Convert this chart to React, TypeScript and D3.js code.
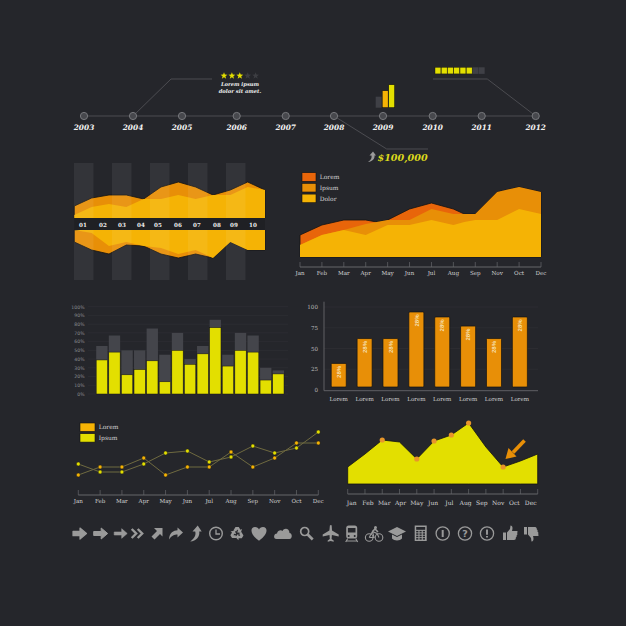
import React from "react";
import * as d3 from "d3";

// ---------- data ----------
const years = ["2003","2004","2005","2006","2007","2008","2009","2010","2011","2012"];
const yearPos = [0, 49, 98, 152.7, 201.7, 250, 299, 348.7, 397.7, 451.7];
const miniBars = [11, 17, 23];
const stars = [1, 1, 1, 0, 0];
const progress = [1, 1, 1, 1, 1, 1, 0, 0];

const ribbonLabels = ["01","02","03","04","05","06","07","08","09","10"];
const ribbonLabelPos = [83,103,122,141,158,178,197,217,234,253];
const stripeIdx = [0, 1, 2, 3, 4];
const ribbonTopOuter = [12,20,23,23,19,31,36,31,23,28,36,28];
const ribbonTopInner = [3,11,14,11,19,19,23,19,23,23,31,28];
const ribbonBotOuter = [12,20,24,15,16,24,28,24,28,12,20,20];
const ribbonBotInner = [0,3,16,12,16,18,24,20,28,12,20,20];

const months = ["Jan","Feb","Mar","Apr","May","Jun","Jul","Aug","Sep","Nov","Oct","Dec"];
const areaPos = [0,1,2,3,3.5,4,5,6,7,7.5,8,9,10,11];
const areaLorem = [22,32,37,37,35,37,48,54,48,43,43,65,70,65];
const areaIpsum = [12,22,27,33,35,37,37,48,43,43,43,65,70,65];
const areaDolor = [12,22,27,22,27,32,32,37,32,35,37,37,48,43];
const areaLegend = ["Lorem","Ipsum","Dolor"];

const pctTicks = [0,10,20,30,40,50,60,70,80,90,100];
const barYellow = [39,48,22,28,38,14,50,34,46,76,32,50,48,16,23];
const barGrey = [55,67,50,50,75,45,70,40,55,85,45,70,67,30,27];

const orangeTicks = [0,25,50,75,100];
const orangeVals = [32,62,62,94,88,77,62,88];

const lineLorem = [20,28,28,37,20,28,28,43,28,37,52,52];
const lineIpsum = [31,23,23,31,42,44,33,38,49,42,47,63];

const peakVals = [17,30,44,42,25,43,49,61,37,17,23,30];
const peakDots = [2,4,5,6,7,9];

// ---------- palette ----------
const BG = "#25262b", LINE = "#55565b", AXIS = "#66676b";
const RED = "#e8650a", ORANGE = "#e88f07", GOLD = "#f5b305", YELLOW = "#e3df00";
const EDGE = "#131313", ICON = "#9a9a9a", TXT = "#d4d4d4";
const SERIF = "'DejaVu Serif', serif";

// ---------- scales ----------
const tlX = d3.scaleLinear().domain([0, 451.7]).range([84, 535.7]);
const ribX = d3.scaleLinear().domain([0, 11]).range([74.3, 265]);
const ribTopY = d3.scaleLinear().domain([0, 55]).range([218, 163]);
const ribBotY = d3.scaleLinear().domain([0, 50]).range([230, 280]);
const areaX = d3.scaleLinear().domain([0, 11]).range([300, 541]);
const areaY = d3.scaleLinear().domain([0, 72]).range([257, 185]);
const pctX = d3.scaleBand<number>().domain(d3.range(15)).range([96.2, 284]).paddingInner(0.1).paddingOuter(0);
const pctY = d3.scaleLinear().domain([0, 100]).range([394, 306.7]);
const ordX = d3.scaleBand<number>().domain(d3.range(8)).range([325.8, 532.8]).paddingInner(0.42).paddingOuter(0.21);
const ordY = d3.scaleLinear().domain([0, 100]).range([390, 307]);
const lineX = d3.scaleLinear().domain([0, 11]).range([78.3, 318.3]);
const lineY = d3.scaleLinear().domain([0, 80]).range([495, 415]);
const peakX = d3.scaleLinear().domain([0, 11]).range([347.7, 537.7]);
const peakY = d3.scaleLinear().domain([0, 61]).range([484, 423]);
const peakLabelX = d3.scaleLinear().domain([0, 11]).range([351.7, 530.7]);

const ribArea = (vals: number[], y: d3.ScaleLinear<number, number>) =>
  d3.area<number>().x((_, i) => ribX(i)).y0(y(0)).y1((v) => y(v))(vals) as string;
const bigArea = (vals: number[]) =>
  d3.area<number>().x((_, i) => areaX(areaPos[i])).y0(areaY(0)).y1((v) => areaY(v))(vals) as string;
const linePath = (vals: number[]) =>
  d3.line<number>().x((_, i) => lineX(i)).y((v) => lineY(v))(vals) as string;
const peakPath = d3.area<number>().x((_, i) => peakX(i)).y0(peakY(0)).y1((v) => peakY(v))(peakVals) as string;

function MonthAxis({ x, labelX, y, labelY, size = 5.6 }: any) {
  return (
    <g>
      <line x1={x(0)} x2={x(11)} y1={y} y2={y} stroke={AXIS} />
      {months.map((m, i) => (
        <g key={i}>
          <line x1={x(i)} x2={x(i)} y1={y - 5} y2={y} stroke={AXIS} strokeWidth={0.7} />
          <text x={labelX(i)} y={labelY} fontSize={size} fontFamily={SERIF} fill={TXT} textAnchor="middle">{m}</text>
        </g>
      ))}
    </g>
  );
}

function Star({ x, y, fill }: any) {
  const pts = d3.range(10).map((i) => {
    const r = i % 2 ? 1.5 : 3.6;
    const a = (i * Math.PI) / 5 - Math.PI / 2;
    return [x + r * Math.cos(a), y + r * Math.sin(a)].join(",");
  }).join(" ");
  return <polygon points={pts} fill={fill} />;
}

function Legend({ x, y, step, names, colors, w, h }: any) {
  return (
    <g>
      {names.map((n: string, i: number) => (
        <g key={n}>
          <rect x={x} y={y + i * step} width={w} height={h} fill={colors[i]} stroke={EDGE} strokeWidth={0.6} />
          <text x={x + w + 3.7} y={y + i * step + h - 2} fontSize={6} fontFamily={SERIF} fill={TXT}>{n}</text>
        </g>
      ))}
    </g>
  );
}

const fat = { stroke: ICON, strokeLinejoin: "round" as const };
const ring = { fill: "none", stroke: ICON };
const icons: [number, React.ReactNode][] = [
  [80, <path d="M-7,-2.2H0V-5.5L6.5,0L0,5.5V2.2H-7Z" fill={ICON} {...fat} strokeWidth={1.2} />],
  [100.7, <path d="M-7,-2H0.5V-5.5L7,0L0.5,5.5V2H-7Z" fill={ICON} {...fat} strokeWidth={1} />],
  [120.7, <path d="M-6.5,-1.5H1V-4.8L6.5,0L1,4.8V1.5H-6.5Z" fill={ICON} {...fat} strokeWidth={0.6} />],
  [137.7, <g fill="none" stroke={ICON} strokeWidth={2.4}><path d="M-6,-4.5L-1.5,0L-6,4.5" /><path d="M0,-4.5L4.5,0L0,4.5" /></g>],
  [157, <path d="M-3,-5.5H5.5V3L3,0.5L-2.5,6L-5.5,3L0,-2.5Z" fill={ICON} />],
  [176, <path d="M-7,6C-6.5,-1 -2.5,-3 1.5,-3.2V-6L7,-1L1.5,4V1C-1.5,1 -4.5,2 -7,6Z" fill={ICON} />],
  [195.7, <path d="M-5.5,8C-1,5 0.5,1 -0.5,-2H-3.2L2,-8L6,-2H3.5C4.5,3 0.5,7.5 -5.5,8Z" fill={ICON} />],
  [216, <g {...ring}><circle r={6.3} strokeWidth={1.4} /><path d="M0,-4V0.5H4" strokeWidth={1.3} /></g>],
  [237, <g fill={ICON}>{[0, 120, 240].map((a) => (
    <path key={a} transform={`rotate(${a})`} d="M-3.6,-3L-1.5,-6.6H1.8L3.4,-3.8L5,-4.6L3.8,-0.4L-0.3,-1.2L1.2,-2.4L0.3,-4L-0.8,-2Z" />
  ))}</g>],
  [259, <path d="M0,7.2C-9.5,1 -9,-6.5 -4,-6.5C-2,-6.5 -0.5,-5.5 0,-4C0.5,-5.5 2,-6.5 4,-6.5C9,-6.5 9.5,1 0,7.2Z" fill={ICON} />],
  [283, <path d="M-6.5,5.5C-10,5.5 -9.5,0 -6,0C-5.5,-3 -2,-4 -0.5,-2.5C1,-6 6.5,-5.5 6.5,-0.5C9.5,-0.5 9.5,5.5 6.5,5.5Z" fill={ICON} />],
  [306.7, <g {...ring}><circle cx={-2} cy={-2} r={4} strokeWidth={1.7} /><path d="M1,1L6,6" strokeWidth={2.6} /></g>],
  [330.7, <path d="M-0.8,-8C0,-9 1,-8.5 1,-7.5L1.3,-3L8,1V3L1.2,1.5L0.9,5.5L3,7V8.2L0,7.5L-3,8.2V7L-0.9,5.5L-1.2,1.5L-8,3V1L-1.3,-3Z" fill={ICON} />],
  [351.7, <g><rect x={-5.5} y={-8} width={11} height={13} rx={2.5} fill={ICON} /><rect x={-3.8} y={-5.5} width={7.6} height={4.5} fill={BG} /><circle cx={-3} cy={2.5} r={1} fill={BG} /><circle cx={3} cy={2.5} r={1} fill={BG} /><path d="M-4,5L-6,8.5M4,5L6,8.5M-5,7.5H5" stroke={ICON} strokeWidth={1.1} /></g>],
  [374, <g {...ring} strokeWidth={1.1}><circle cx={-4.8} cy={4} r={3.8} /><circle cx={5} cy={4} r={3.8} /><path d="M-4.8,4L-1.5,-2L3,0L5,4M-1.5,-2L0,4H-4.8" /><circle cx={1.5} cy={-6} r={1.5} fill={ICON} stroke="none" /><path d="M-1.5,-2L1,-4.5L4,-1.5" strokeWidth={1.6} /></g>],
  [397, <g fill={ICON}><path d="M0,-6.5L9,-2L0,2.5L-9,-2Z" /><path d="M-5,1L0,3.5L5,1V5C3,7.5 -3,7.5 -5,5Z" /></g>],
  [420.7, <g><rect x={-6} y={-8} width={12} height={15.5} fill={ICON} /><rect x={-4.5} y={-6.5} width={9} height={2.8} fill={BG} />{d3.range(12).map((i) => <rect key={i} x={-4.5 + (i % 3) * 3.3} y={-2.6 + Math.floor(i / 3) * 2.4} width={2.2} height={1.5} fill={BG} />)}</g>],
  [442.7, <g {...ring}><circle r={6.6} strokeWidth={1.3} /><path d="M0,-3.5V3.5" strokeWidth={2} /></g>],
  [465, <g><circle r={6.6} {...ring} strokeWidth={1.3} /><text y={3.2} fontSize={9.5} fontWeight="bold" fontFamily="'DejaVu Sans'" fill={ICON} textAnchor="middle">?</text></g>],
  [487, <g {...ring}><circle r={6.6} strokeWidth={1.3} /><path d="M0,-4V1.2M0,2.4V4" strokeWidth={1.9} /></g>],
  [510, <path d="M-7,-1H-4V6.5H-7ZM-3,-1L0,-4.5L0.5,-8C2.5,-8 3,-5.5 2,-2.5H7C7.8,-2.5 7.8,-1 7,-0.5C7.8,0 7.5,1.5 6.5,1.8C7,2.5 6.5,3.8 5.8,4C6,5 5.5,6.5 4,6.5H-3Z" fill={ICON} />],
  [531, <path d="M-7,-6.5H-4V1H-7ZM-3,-6.5H4C5.5,-6.5 6,-5 5.8,-4C6.5,-3.8 7,-2.5 6.5,-1.8C7.5,-1.5 7.8,0 7,0.5C7.8,1 7.8,2.5 7,2.5H2C3,5.5 2.5,8 0.5,8L0,4.5L-3,1Z" fill={ICON} />],
];

export default function App() {
  return (
    <svg width={626} height={626} viewBox="0 0 626 626" style={{ position: "absolute", left: 0, top: 0, background: BG }}>
      <rect width={626} height={626} fill={BG} />

      {/* timeline */}
      <line x1={tlX(0)} x2={tlX(451.7)} y1={116} y2={116} stroke={LINE} strokeWidth={0.8} />
      <polyline points={`${tlX(49)},116 171,79 212,79`} fill="none" stroke={LINE} strokeWidth={0.8} />
      <polyline points={`${tlX(250)},116 386.7,149 428,149`} fill="none" stroke={LINE} strokeWidth={0.8} />
      <polyline points={`433,79 487.3,79 ${tlX(451.7)},116`} fill="none" stroke={LINE} strokeWidth={0.8} />
      {years.map((y, i) => (
        <g key={y}>
          <circle cx={tlX(yearPos[i])} cy={116} r={3.6} fill="#47484d" stroke="#77787c" strokeWidth={1} />
          <text x={tlX(yearPos[i])} y={130} fontSize={7.4} fontWeight="bold" fontStyle="italic" fontFamily={SERIF} fill="#f2f2f2" textAnchor="middle">{y}</text>
        </g>
      ))}
      {stars.map((s, i) => <Star key={i} x={224 + i * 7.9} y={75.8} fill={s ? YELLOW : "#3c3d42"} />)}
      <text x={240} y={86} fontSize={5.2} fontWeight="bold" fontStyle="italic" fontFamily={SERIF} fill="#eee" textAnchor="middle">Lorem ipsum</text>
      <text x={240} y={92.6} fontSize={5.2} fontWeight="bold" fontStyle="italic" fontFamily={SERIF} fill="#eee" textAnchor="middle">dolor sit amet.</text>
      {miniBars.map((v, i) => (
        <rect key={i} x={375.7 + i * 6.5} y={107.7 - v} width={6} height={v} fill={["#3f4046", GOLD, YELLOW][i]} stroke={i ? EDGE : "none"} strokeWidth={0.6} />
      ))}
      {progress.map((p, i) => (
        <rect key={i} x={435 + i * 6.25} y={67.3} width={5.9} height={6.6} fill={p ? YELLOW : "#3f4046"} stroke={p ? EDGE : "none"} strokeWidth={0.4} />
      ))}
      <path d="M369,162C372,160 373,158 372.5,155.5H370.5L374,151.5L377,155.5H375.5C376,158.5 373.5,161.5 369,162Z" fill={ICON} transform="translate(-1,0)" />
      <text x={377.5} y={161} fontSize={9.6} fontWeight="bold" fontStyle="italic" fontFamily={SERIF} fill="#dcd91c">$100,000</text>

      {/* ribbon chart */}
      <path d={ribArea(ribbonTopOuter, ribTopY)} fill={ORANGE} stroke={EDGE} strokeWidth={0.8} />
      <path d={ribArea(ribbonTopInner, ribTopY)} fill={GOLD} />
      <path d={ribArea(ribbonBotOuter, ribBotY)} fill={ORANGE} stroke={EDGE} strokeWidth={0.8} />
      <path d={ribArea(ribbonBotInner, ribBotY)} fill={GOLD} />
      <rect x={ribX(0)} y={218} width={ribX(11) - ribX(0)} height={12} fill="#1f2024" />
      {stripeIdx.map((i) => (
        <g key={i}>
          <rect x={74 + i * 38} y={163} width={19.5} height={55} fill="#ffffff" opacity={0.065} />
          <rect x={74 + i * 38} y={230} width={19.5} height={50} fill="#ffffff" opacity={0.065} />
        </g>
      ))}
      {ribbonLabels.map((l, i) => (
        <text key={l} x={ribbonLabelPos[i]} y={227} fontSize={5.6} fontWeight="bold" fontFamily={SERIF} fill="#eee" textAnchor="middle">{l}</text>
      ))}

      {/* layered area */}
      <path d={bigArea(areaLorem)} fill={RED} stroke={EDGE} strokeWidth={0.8} />
      <path d={bigArea(areaIpsum)} fill={ORANGE} />
      <path d={bigArea(areaDolor)} fill={GOLD} />
      <MonthAxis x={areaX} labelX={areaX} y={267} labelY={274.8} />
      <Legend x={302} y={172.7} step={10.7} names={areaLegend} colors={[RED, ORANGE, GOLD]} w={14} h={8.6} />

      {/* percent stacked bars */}
      {pctTicks.map((t) => (
        <g key={t}>
          <line x1={88} x2={288} y1={pctY(t)} y2={pctY(t)} stroke="#303136" strokeWidth={0.6} />
          <text x={84.5} y={pctY(t) + 1.8} fontSize={4.6} fontFamily="'DejaVu Sans'" fill="#8b8c90" textAnchor="end">{t}%</text>
        </g>
      ))}
      {barGrey.map((v, i) => (
        <rect key={i} x={pctX(i)} y={pctY(v)} width={pctX.bandwidth()} height={pctY(0) - pctY(v)} fill="#44454b" />
      ))}
      {barYellow.map((v, i) => (
        <rect key={i} x={pctX(i)} y={pctY(v)} width={pctX.bandwidth()} height={pctY(0) - pctY(v)} fill={YELLOW} stroke={EDGE} strokeWidth={0.5} />
      ))}

      {/* orange bars */}
      {orangeTicks.map((t) => (
        <g key={t}>
          {t > 0 && <line x1={324} x2={538} y1={ordY(t)} y2={ordY(t)} stroke="#303136" strokeWidth={0.6} />}
          <text x={318} y={ordY(t) + 2} fontSize={5.6} fontFamily={SERIF} fill="#b8b8b8" textAnchor="end">{t}</text>
        </g>
      ))}
      <polyline points="324,301.7 324,390.7 538,390.7" fill="none" stroke={AXIS} strokeWidth={0.9} />
      {orangeVals.map((v, i) => {
        const x = ordX(i) as number, cx = x + ordX.bandwidth() / 2;
        return (
          <g key={i}>
            <rect x={x} y={ordY(v)} width={ordX.bandwidth()} height={ordY(3.6) - ordY(v)} rx={1} fill={ORANGE} stroke={EDGE} strokeWidth={0.7} />
            <text transform={`translate(${cx},${ordY(v) + 8.5}) rotate(-90)`} y={2.2} fontSize={6} fontWeight="bold" fontFamily="'Liberation Sans'" fill="#f6dfae" textAnchor="middle">28%</text>
            <text x={cx} y={400.7} fontSize={5.6} fontFamily={SERIF} fill={TXT} textAnchor="middle">Lorem</text>
          </g>
        );
      })}

      {/* line chart */}
      <Legend x={80} y={423} step={10.7} names={["Lorem", "Ipsum"]} colors={[GOLD, YELLOW]} w={15} h={8.4} />
      <path d={linePath(lineLorem)} fill="none" stroke="#6f6a40" strokeWidth={1} />
      <path d={linePath(lineIpsum)} fill="none" stroke="#6f6a40" strokeWidth={1} />
      {lineLorem.map((v, i) => <circle key={i} cx={lineX(i)} cy={lineY(v)} r={1.9} fill={GOLD} stroke={EDGE} strokeWidth={0.4} />)}
      {lineIpsum.map((v, i) => <circle key={i} cx={lineX(i)} cy={lineY(v)} r={1.9} fill={YELLOW} stroke={EDGE} strokeWidth={0.4} />)}
      <MonthAxis x={lineX} labelX={lineX} y={495} labelY={503} />

      {/* peak area */}
      <path d={peakPath} fill={YELLOW} stroke={EDGE} strokeWidth={0.8} />
      {peakDots.map((i) => <circle key={i} cx={peakX(i)} cy={peakY(peakVals[i])} r={2.6} fill="#e8962a" />)}
      <MonthAxis x={peakX} labelX={peakLabelX} y={494} labelY={505} size={6} />
      <path d="M524.5,440.5L513,452.5" stroke={ORANGE} strokeWidth={3.6} fill="none" />
      <path d="M505.5,459L508.5,448L516.5,456.5Z" fill={ORANGE} />

      {/* icon row */}
      {icons.map(([x, node], i) => <g key={i} transform={`translate(${x},533.5)`}>{node}</g>)}
    </svg>
  );
}
